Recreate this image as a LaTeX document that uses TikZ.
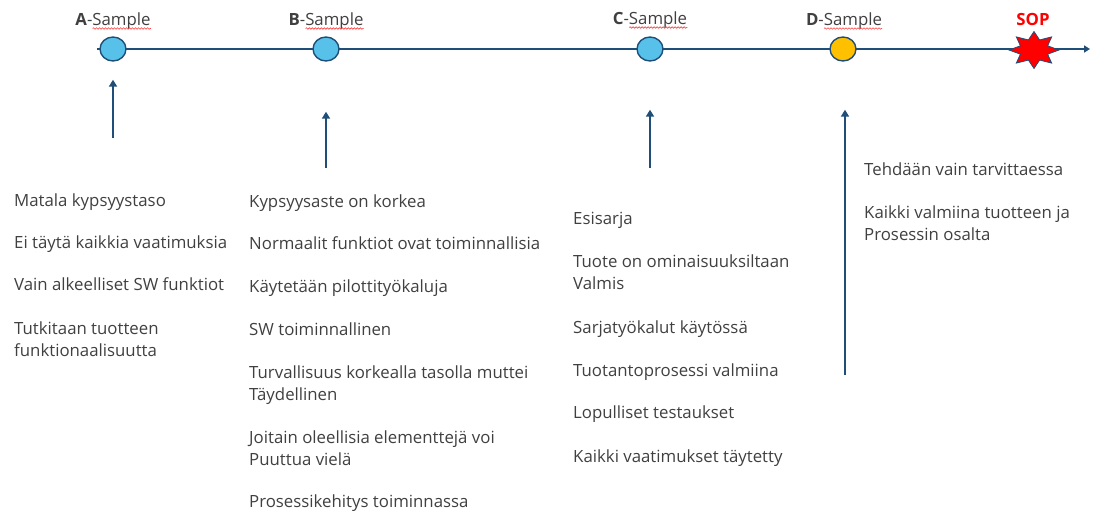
\documentclass[tikz,border=0pt]{standalone}
\usepackage{fontspec}
\setmainfont{Open Sans}
\usetikzlibrary{arrows.meta,shapes.geometric,decorations.pathmorphing}
\definecolor{axis}{HTML}{1F4E79}
\definecolor{dotblue}{HTML}{57C1EA}
\definecolor{dotgold}{HTML}{FFC000}
\definecolor{txt}{HTML}{404040}
\definecolor{sopred}{HTML}{FF0000}
\newcommand\fstrut{\rule{0pt}{13pt}}
\newlength\smpw

\begin{document}
\settowidth{\smpw}{\fontsize{16.8}{19}\selectfont Sample}%
\begin{tikzpicture}[x=1pt,y=-1pt,
  axisline/.style={draw=axis, line width=2pt, -{Triangle[length=6pt,width=7pt]}},
  milestone/.style={ellipse, draw=axis, line width=1.4pt, fill=dotblue,
    minimum width=26pt, minimum height=24pt, inner sep=0},
  pointer/.style={draw=axis, line width=1.8pt, -{Triangle[length=7pt,width=8pt]}},
  item/.style={anchor=north west, inner sep=0, align=left, text=txt,
    font=\fontsize{16.8}{22}\selectfont},
  phase/.style={inner sep=0, text=txt, font=\fontsize{16.8}{19}\selectfont, anchor=base},
  squiggle/.style={draw=red!75, line width=0.6pt, decorate,
    decoration={snake, amplitude=0.8pt, segment length=3pt}},
]
\useasboundingbox (0,0) rectangle (1093,514);

% timeline
\coordinate (tl0) at (97,49);
\coordinate (tl1) at (1090,49);
\draw[axisline] (tl0) -- (tl1);

% milestones
\node[milestone] (mA) at (113,49) {};
\node[milestone] (mB) at (326,49) {};
\node[milestone] (mC) at (650,49) {};
\node[milestone, fill=dotgold] (mD) at (843,49) {};
\node[star, star points=8, star point ratio=1.7, minimum size=37pt, inner sep=0,
  xscale=1.35, transform shape, draw=axis, line width=0.8pt, fill=sopred] (sop) at (1034,50) {};

% milestone titles
\node[phase] (lA) at (113,25) {\textbf{A}-Sample};
\node[phase] (lB) at (326,25) {\textbf{B}-Sample};
\node[phase] (lC) at (650,24) {\textbf{C}-Sample};
\node[phase] (lD) at (844,25) {\textbf{D}-Sample};
\node[phase, text=sopred, font=\bfseries\fontsize{16.8}{19}\selectfont] (lS) at (1033,25) {SOP};
\foreach \lbl in {lA,lB,lC,lD}
  \draw[squiggle] ([xshift=-\smpw, yshift=-3.5pt]\lbl.base east) -- ([yshift=-3.5pt]\lbl.base east);

% pointers
\coordinate (pA) at (113,138);
\coordinate (pB) at (326,168);
\coordinate (pC) at (650,168);
\coordinate (pD) at (845,375);
\draw[pointer] (pA) -- ([yshift=-18pt]mA.south);
\draw[pointer] (pB) -- ([yshift=-50pt]mB.south);
\draw[pointer] (pC) -- ([yshift=-48pt]mC.south);
\draw[pointer] (pD) -- ([xshift=2pt, yshift=-48pt]mD.south);

% A
\node[item] (a1) at (14,193) {\fstrut Matala kypsyystaso};
\node[item] (a2) at (14,235) {\fstrut Ei täytä kaikkia vaatimuksia};
\node[item] (a3) at (14,277) {\fstrut Vain alkeelliset SW funktiot};
\node[item] (a4) at (14,321) {\fstrut Tutkitaan tuotteen\\funktionaalisuutta};

% B
\node[item] (b1) at (249,194) {\fstrut Kypsyysaste on korkea};
\node[item] (b2) at (249,236) {\fstrut Normaalit funktiot ovat toiminnallisia};
\node[item] (b3) at (249,279) {\fstrut Käytetään pilottityökaluja};
\node[item] (b4) at (249,322) {\fstrut SW toiminnallinen};
\node[item] (b5) at (249,365) {\fstrut Turvallisuus korkealla tasolla muttei\\Täydellinen};
\node[item] (b6) at (249,430) {\fstrut Joitain oleellisia elementtejä voi\\Puuttua vielä};
\node[item] (b7) at (249,494) {\fstrut Prosessikehitys toiminnassa};

% C
\node[item] (c1) at (573,211) {\fstrut Esisarja};
\node[item] (c2) at (573,254) {\fstrut Tuote on ominaisuuksiltaan\\Valmis};
\node[item] (c3) at (573,320) {\fstrut Sarjatyökalut käytössä};
\node[item] (c4) at (573,363) {\fstrut Tuotantoprosessi valmiina};
\node[item] (c5) at (573,405) {\fstrut Lopulliset testaukset};
\node[item] (c6) at (573,449) {\fstrut Kaikki vaatimukset täytetty};

% D
\node[item] (d1) at (864,162) {\fstrut Tehdään vain tarvittaessa};
\node[item] (d2) at (864,205) {\fstrut Kaikki valmiina tuotteen ja\\Prosessin osalta};
\end{tikzpicture}
\end{document}
